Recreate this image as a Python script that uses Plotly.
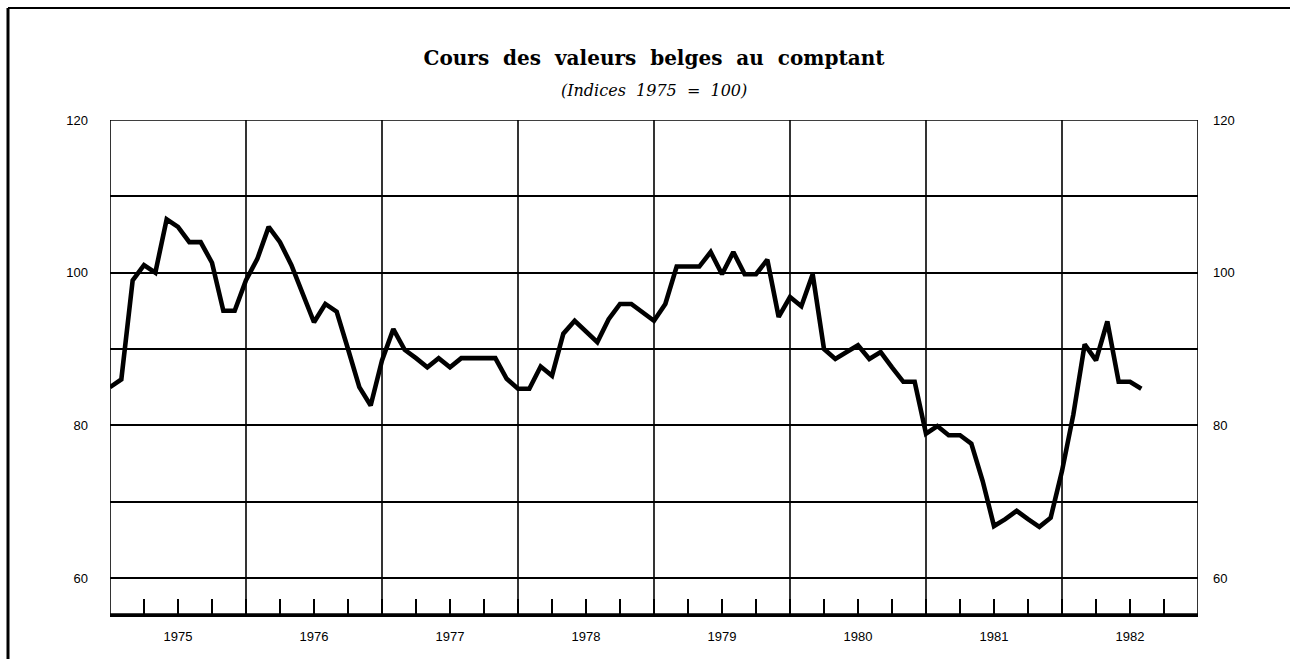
import plotly.graph_objects as go

# Monthly index of Belgian share prices (1975 = 100), Jan 1975 - Aug 1982
years = [1975, 1976, 1977, 1978, 1979, 1980, 1981, 1982]
values_1975 = [85, 86, 99, 101, 100, 107, 106, 104, 104, 101.3, 95, 95]
values_1976 = [99, 101.8, 106, 104, 101, 97.2, 93.5, 95.9, 94.9, 90, 85, 82.6]
values_1977 = [88.5, 92.6, 89.9, 88.8, 87.6, 88.8, 87.6, 88.8, 88.8, 88.8, 88.8, 86.1]
values_1978 = [84.8, 84.8, 87.7, 86.5, 92, 93.7, 92.2, 90.9, 93.9, 95.9, 95.9, 94.8]
values_1979 = [93.7, 95.9, 100.8, 100.8, 100.8, 102.7, 99.8, 102.7, 99.8, 99.8, 101.7, 94.2]
values_1980 = [96.8, 95.6, 99.8, 90, 88.7, 89.6, 90.5, 88.7, 89.6, 87.6, 85.7, 85.7]
values_1981 = [78.9, 79.9, 78.7, 78.7, 77.6, 72.7, 66.8, 67.7, 68.8, 67.7, 66.7, 67.9]
values_1982 = [74, 81.4, 90.6, 88.5, 93.6, 85.7, 85.7, 84.8]

series = (values_1975 + values_1976 + values_1977 + values_1978
          + values_1979 + values_1980 + values_1981 + values_1982)
months = list(range(len(series)))  # months elapsed since January 1975

y_ticks = [60, 70, 80, 90, 100, 110, 120]
y_labels = ["60", "", "80", "", "100", "", "120"]
Y_MIN, Y_MAX = 55.28, 120
X_MIN, X_MAX = 0, 12 * len(years)

tick_font = dict(family="Liberation Sans Narrow, Liberation Sans, Arial", size=13, color="black")

fig = go.Figure()
fig.add_trace(go.Scatter(
    x=months, y=series, mode="lines",
    line=dict(color="black", width=4.6),
    hoverinfo="x+y", showlegend=False,
))
# invisible companion trace so the right-hand axis is rendered
fig.add_trace(go.Scatter(
    x=months, y=series, mode="lines", yaxis="y2",
    line=dict(color="rgba(0,0,0,0)", width=0),
    hoverinfo="skip", showlegend=False,
))

shapes = []
# year separators
for i in range(1, len(years)):
    shapes.append(dict(type="line", xref="x", yref="y", x0=12 * i, x1=12 * i,
                       y0=Y_MIN, y1=Y_MAX, line=dict(color="black", width=1.6),
                       layer="below"))
# plot frame
shapes.append(dict(type="rect", xref="x", yref="y", x0=X_MIN, x1=X_MAX,
                   y0=Y_MIN, y1=Y_MAX, line=dict(color="black", width=1.6),
                   layer="below"))
# page border (top and left)
shapes.append(dict(type="line", xref="paper", yref="paper",
                   x0=-102 / 1088, x1=1180 / 1088,
                   y0=1 + 112 / 494, y1=1 + 112 / 494,
                   line=dict(color="black", width=2)))
shapes.append(dict(type="line", xref="paper", yref="paper",
                   x0=-102 / 1088, x1=-102 / 1088,
                   y0=1 + 112 / 494, y1=-50 / 494,
                   line=dict(color="black", width=3)))

fig.update_layout(
    width=1297, height=659,
    margin=dict(l=110, r=99, t=120, b=45),
    paper_bgcolor="white", plot_bgcolor="white",
    title=dict(
        text="Cours  des  valeurs  belges  au  comptant",
        x=0.5, xanchor="center", xref="paper",
        y=1 - 58 / 659, yanchor="middle", yref="container",
        font=dict(family="DejaVu Serif", size=20, color="black", weight="bold"),
    ),
    annotations=[dict(
        text="<i>(Indices  1975  =  100)</i>",
        xref="paper", yref="paper", x=0.5, y=1 + 30 / 494,
        xanchor="center", yanchor="middle", showarrow=False,
        font=dict(family="DejaVu Serif", size=16, color="black"),
    )],
    xaxis=dict(
        range=[X_MIN, X_MAX], showgrid=False, zeroline=False,
        tickvals=[12 * i + 6 for i in range(len(years))],
        ticktext=[str(y) for y in years],
        ticks="inside", ticklen=15, tickwidth=2, tickcolor="black",
        minor=dict(ticks="inside", ticklen=15, tickwidth=2, tickcolor="black",
                   tick0=0, dtick=3, showgrid=False),
        showline=True, linecolor="black", linewidth=2.5,
        ticklabelstandoff=9,
        tickfont=tick_font,
    ),
    yaxis=dict(
        range=[Y_MIN, Y_MAX], tickvals=y_ticks, ticktext=y_labels,
        showgrid=True, gridcolor="black", gridwidth=1.5,
        zeroline=False, ticks="", ticklabelstandoff=21,
        tickfont=tick_font,
    ),
    yaxis2=dict(
        range=[Y_MIN, Y_MAX], tickvals=y_ticks, ticktext=y_labels,
        overlaying="y", side="right", showgrid=False, zeroline=False,
        ticks="", ticklabelstandoff=14, tickfont=tick_font,
    ),
    shapes=shapes,
)

fig.write_html("out.html")
